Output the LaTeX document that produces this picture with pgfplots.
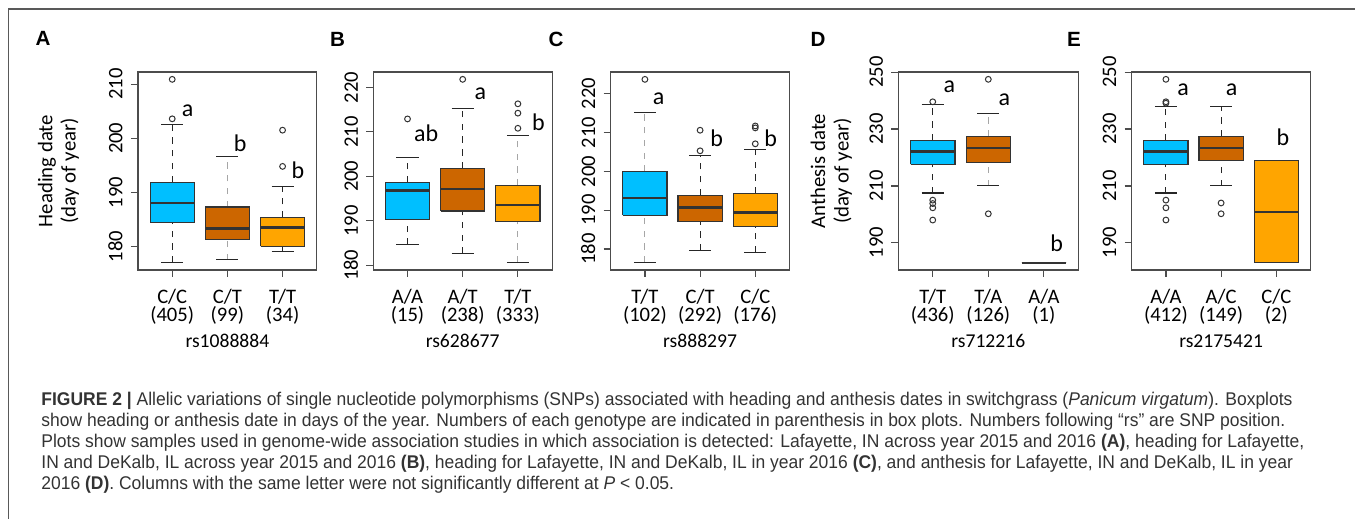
\documentclass[border=0pt]{standalone}
\usepackage{pgfplots}
\pgfplotsset{compat=1.18}
\usepackage{fontspec}
\setmainfont{Carlito}
\newfontfamily\capfont[FakeStretch=0.95]{Liberation Sans}
\newfontfamily\panelfont{Liberation Sans}
\definecolor{bxcyan}{HTML}{00BFFF}
\definecolor{bxbrown}{HTML}{CC6600}
\definecolor{bxorange}{HTML}{FFA500}
\definecolor{capgray}{HTML}{333333}
\tikzset{lett/.style={font=\fontsize{12}{12}\selectfont, inner sep=0pt}}
\pgfplotsset{
  whisk/.style={mark=none, line width=0.55pt, dash pattern=on 3.2pt off 3.2pt},
  cap/.style={mark=none, solid, draw=black!85, line width=0.55pt},
  boxs/.style={mark=none, draw=black!80, line width=0.55pt, line join=miter},
  med/.style={mark=none, draw=black!80, line width=1.1pt},
  outl/.style={only marks, mark=o, mark size=1.45pt, mark options={solid, draw=black!80, fill=none, line width=0.5pt}},
  panel/.style={
    scale only axis, width=89.4pt, height=99pt, anchor=south west,
    xmin=0.38, xmax=3.62, xtick={1,2,3},
    tick align=outside, major tick length=3.5pt,
    xtick pos=bottom, ytick pos=left,
    axis line style={black!70, line width=0.6pt},
    tick style={black!70, line width=0.6pt},
    /pgf/number format/assume math mode=true,
    yticklabel shift=4pt,
    yticklabel style={rotate=90, anchor=south, inner sep=0pt, font=\fontsize{10.3}{12}\selectfont},
    xticklabel style={align=center, anchor=north, inner sep=0pt, yshift=-5.9pt, font=\fontsize{10.3}{8.9}\selectfont},
    xlabel style={at={(axis description cs:0.5,-0.359)}, anchor=center, font=\fontsize{9.8}{12}\selectfont},
    ylabel style={anchor=center, align=center, font=\fontsize{10.4}{11.7}\selectfont},
    clip=false,
  },
}
% \bxp{position}{lower whisker}{lower quartile}{median}{upper quartile}{upper whisker}{fill}{whisker colour}
\newcommand\bxp[8]{%
  \pgfmathsetmacro\bxL{#1-0.4}%
  \pgfmathsetmacro\bxR{#1+0.4}%
  \pgfmathsetmacro\cpL{#1-0.2}%
  \pgfmathsetmacro\cpR{#1+0.2}%
  \edef\bxtmp{%
    \noexpand\addplot[whisk, draw=#8] coordinates {(#1,#2) (#1,#3)};
    \noexpand\addplot[whisk, draw=#8] coordinates {(#1,#5) (#1,#6)};
    \noexpand\addplot[cap] coordinates {(\cpL,#2) (\cpR,#2)};
    \noexpand\addplot[cap] coordinates {(\cpL,#6) (\cpR,#6)};
    \noexpand\addplot[boxs, fill=#7] coordinates {(\bxL,#3) (\bxR,#3) (\bxR,#5) (\bxL,#5) (\bxL,#3)};
    \noexpand\addplot[med] coordinates {(\bxL,#4) (\bxR,#4)};
  }\bxtmp}
\begin{document}
\begin{tikzpicture}
\path[use as bounding box] (0,0) rectangle (677.5pt,259.5pt);
\draw[black!65, line width=0.9pt] (4.2pt,0) -- (4.2pt,255pt) -- (677.5pt,255pt);
% panel letters
\node[font=\panelfont\bfseries\fontsize{10.3}{12}\selectfont] at (21.5pt,240.2pt) {A};
\node[font=\panelfont\bfseries\fontsize{10.3}{12}\selectfont] at (168.75pt,240pt) {B};
\node[font=\panelfont\bfseries\fontsize{10.3}{12}\selectfont] at (278pt,240pt) {C};
\node[font=\panelfont\bfseries\fontsize{10.3}{12}\selectfont] at (409pt,240pt) {D};
\node[font=\panelfont\bfseries\fontsize{10.3}{12}\selectfont] at (537pt,240pt) {E};

% ---------- A ----------
\begin{axis}[panel, at={(69pt,124.5pt)},
  ymin=175.64, ymax=212.26, ytick={180,190,200,210},
  xticklabels={{C/C\\(405)},{C/T\\(99)},{T/T\\(34)}},
  xlabel={rs1088884},
  ylabel={Heading date\\(day of year)},
  ylabel style={at={(axis description cs:-0.445,0.5)}}]
\bxp{1}{177.0}{184.5}{188.0}{191.9}{202.5}{bxcyan}{black!85}
\bxp{2}{177.5}{181.2}{183.3}{187.3}{196.6}{bxbrown}{black!35}
\bxp{3}{179.0}{180.0}{183.5}{185.4}{191.0}{bxorange}{black!85}
\addplot[outl] coordinates {(1,203.6) (1,210.9) (3,194.8) (3,201.5)};
\node[lett] at (axis cs:1.28,205) {a};
\node[lett] at (axis cs:2.23,199) {b};
\node[lett] at (axis cs:3.28,194) {b};
\end{axis}

% ---------- B ----------
\begin{axis}[panel, at={(186.65pt,124.5pt)},
  ymin=178.95, ymax=223.45, ytick={180,190,200,210,220},
  xticklabels={{A/A\\(15)},{A/T\\(238)},{T/T\\(333)}},
  xlabel={rs628677}]
\bxp{1}{184.6}{190.2}{196.8}{198.7}{204.3}{bxcyan}{black!85}
\bxp{2}{182.6}{192.2}{197.1}{201.8}{215.2}{bxbrown}{black!85}
\bxp{3}{180.6}{189.8}{193.6}{197.9}{209.2}{bxorange}{black!35}
\addplot[outl] coordinates {(1,212.9) (2,221.8) (3,210.8) (3,214.2) (3,216.3)};
\node[lett] at (axis cs:1.34,209.7) {ab};
\node[lett] at (axis cs:2.32,218.5) {a};
\node[lett] at (axis cs:3.37,212.2) {b};
\end{axis}

% ---------- C ----------
\begin{axis}[panel, at={(305.35pt,124.5pt)},
  ymin=174.6, ymax=225.6, ytick={180,190,200,210,220},
  xticklabels={{T/T\\(102)},{C/T\\(292)},{C/C\\(176)}},
  xlabel={rs888297}]
\bxp{1}{176.5}{188.7}{193.1}{199.9}{215.2}{bxcyan}{black!35}
\bxp{2}{179.6}{187.0}{190.7}{193.9}{204.0}{bxbrown}{black!85}
\bxp{3}{179.2}{185.8}{189.4}{194.3}{205.7}{bxorange}{black!85}
\addplot[outl] coordinates {(1,223.7) (2,205.3) (2,210.6) (3,207.1) (3,211.2) (3,211.7)};
\node[lett] at (axis cs:1.25,218.7) {a};
\node[lett] at (axis cs:2.30,208.5) {b};
\node[lett] at (axis cs:3.28,208.5) {b};
\end{axis}

% ---------- D ----------
\begin{axis}[panel, width=90pt, at={(449.15pt,124.5pt)},
  ymin=180.42, ymax=250.08, ytick={190,210,230,250},
  xticklabels={{T/T\\(436)},{T/A\\(126)},{A/A\\(1)}},
  xlabel={rs712216},
  ylabel={Anthesis date\\(day of year)},
  ylabel style={at={(axis description cs:-0.372,0.5)}}]
\bxp{1}{207.5}{217.6}{222.1}{226.0}{238.7}{bxcyan}{black!85}
\bxp{2}{210.0}{218.1}{223.2}{227.4}{235.5}{bxbrown}{black!35}
\bxp{3}{183}{183}{183}{183}{183}{bxorange}{black!85}
\addplot[outl] coordinates {(1,239.6) (1,205.0) (1,203.8) (1,202.3) (1,198.0) (2,247.5) (2,200.2)};
\node[lett] at (axis cs:1.30,245) {a};
\node[lett] at (axis cs:2.29,240.3) {a};
\node[lett] at (axis cs:3.23,190) {b};
\end{axis}

% ---------- E ----------
\begin{axis}[panel, at={(565.85pt,124.5pt)},
  ymin=180.42, ymax=250.08, ytick={190,210,230,250},
  xticklabels={{A/A\\(412)},{A/C\\(149)},{C/C\\(2)}},
  xlabel={rs2175421}]
\bxp{1}{207.5}{217.4}{222.1}{225.9}{237.9}{bxcyan}{black!85}
\bxp{2}{210.0}{218.8}{223.4}{227.4}{237.9}{bxbrown}{black!85}
\bxp{3}{183}{183}{200.9}{218.8}{218.8}{bxorange}{black!85}
\addplot[outl] coordinates {(1,247.5) (1,239.6) (1,239.1) (1,205.0) (1,202.3) (1,198.0) (2,204.0) (2,200.2)};
\node[lett] at (axis cs:1.31,243.8) {a};
\node[lett] at (axis cs:2.19,243.8) {a};
\node[lett] at (axis cs:3.12,227) {b};
\end{axis}

% caption
\begin{scope}[every node/.style={anchor=base west, inner sep=0pt, text=capgray, font=\capfont\fontsize{9.2}{10.5}\selectfont}]
\node at (20.5pt,56.5pt) {\textbf{FIGURE 2 |} Allelic variations of single nucleotide polymorphisms (SNPs) associated with heading and anthesis dates in switchgrass (\textit{Panicum virgatum}). Boxplots};
\node at (20.5pt,46pt) {show heading or anthesis date in days of the year. Numbers of each genotype are indicated in parenthesis in box plots. Numbers following “rs” are SNP position.};
\node at (20.5pt,35.5pt) {Plots show samples used in genome-wide association studies in which association is detected: Lafayette, IN across year 2015 and 2016 \textbf{(A)}, heading for Lafayette,};
\node at (20.5pt,25pt) {IN and DeKalb, IL across year 2015 and 2016 \textbf{(B)}, heading for Lafayette, IN and DeKalb, IL in year 2016 \textbf{(C)}, and anthesis for Lafayette, IN and DeKalb, IL in year};
\node at (20.5pt,14.5pt) {2016 \textbf{(D)}. Columns with the same letter were not significantly different at \textit{P} < 0.05.};
\end{scope}
\end{tikzpicture}
\end{document}
